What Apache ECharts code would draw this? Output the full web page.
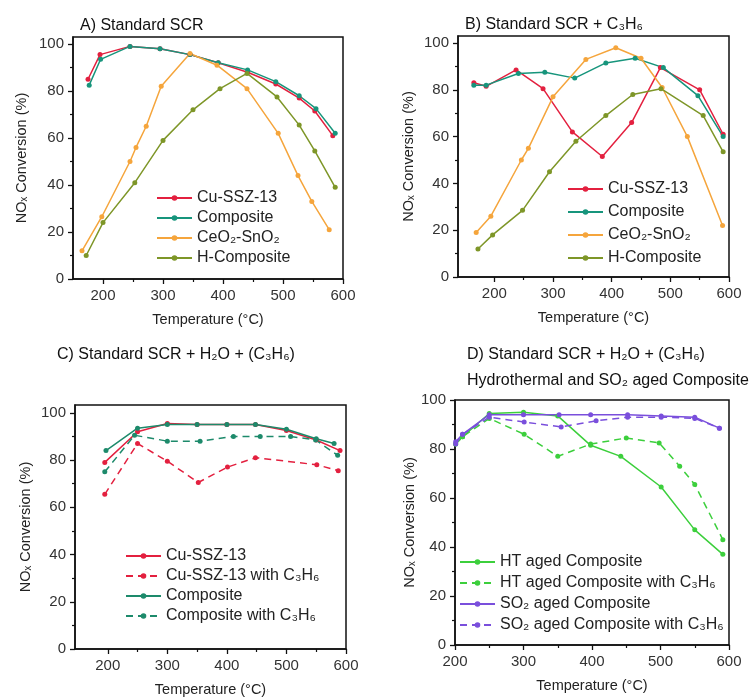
<!DOCTYPE html>
<html><head><meta charset="utf-8">
<script src="https://cdn.jsdelivr.net/npm/echarts@6/dist/echarts.min.js"></script>
<style>html,body{margin:0;padding:0;background:#fff}#c{width:753px;height:699px}</style>
</head><body><div id="c"></div>
<script>
// ---------- Panel A: Standard SCR ----------
const A_cu_T   = [175,195,245,295,345,392,441,488,527,553,583];
const A_cu_Y   = [85,95.5,99,98,95.5,92,88,83,77,71.5,61];
const A_comp_T = [177,196,245,295,345,392,441,488,527,555,587];
const A_comp_Y = [82.5,93.5,99,98,95.5,92,89,84,78,72.5,62];
const A_ceo_T  = [165,198,245,255,272,297,345,390,440,492,525,548,577];
const A_ceo_Y  = [12,26.5,50,56,65,82,96,91,81,62,44,33,21];
const A_h_T    = [172,200,253,300,350,395,440,490,527,553,587];
const A_h_Y    = [10,24,41,59,72,81,87.5,77.5,65.5,54.5,39];
// ---------- Panel B: Standard SCR + C3H6 ----------
const B_cu_T   = [165,186,237,283,333,384,434,483,550,590];
const B_cu_Y   = [83,81.5,88.5,80.5,62,51.5,66,89.5,80,61];
const B_comp_T = [165,186,241,286,337,390,440,488,547,590];
const B_comp_Y = [82,82,87,87.5,85,91.5,93.5,89.5,77.5,60];
const B_ceo_T  = [169,194,246,258,300,356,407,450,486,529,589];
const B_ceo_Y  = [19,26,50,55,77,93,98,93.5,81,60,22];
const B_h_T    = [172,197,248,294,339,390,436,484,556,590];
const B_h_Y    = [12,18,28.5,45,58,69,78,80.5,69,53.5];
// ---------- Panel C: Standard SCR + H2O + (C3H6) ----------
const C_cu_T    = [195,250,300,350,400,448,500,550,590];
const C_cu_Y    = [79,92,95.5,95,95,95,92.5,88.5,84];
const C_cuHC_T  = [195,250,300,352,401,448,551,587];
const C_cuHC_Y  = [65.5,87,79.5,70.5,77,81,78,75.5];
const C_comp_T  = [197,250,300,350,400,448,500,550,580];
const C_comp_Y  = [84,93.5,95,95,95,95,93,89,87];
const C_compHC_T= [195,245,300,355,411,456,507,549,586];
const C_compHC_Y= [75,90.5,88,88,90,90,90,88.5,82];
// ---------- Panel D: aged composite ----------
const D_ht_T    = [201,211,250,300,350,398,442,501,550,591];
const D_ht_Y    = [82,85,94.5,95,93.5,81.5,77,64.5,47,37];
const D_htHC_T  = [201,211,250,301,350,398,450,498,528,550,591];
const D_htHC_Y  = [82,85,92.5,86,77,82,84.5,82.5,73,65.5,43];
const D_so_T    = [201,211,250,300,352,398,452,501,550,586];
const D_so_Y    = [83,86,94,94,94,94,94,93.5,93,88.5];
const D_soHC_T  = [201,211,250,301,355,406,452,501,550,586];
const D_soHC_Y  = [82,86,93,91,89,91.5,93,93,92.5,88.5];
// ---------- ticks ----------
const xMajorTicks = [200,300,400,500,600];
const xMinorTicks = [250,350,450,550];
const yMajorTicks = [0,20,40,60,80,100];
const yMinorTicks = [10,30,50,70,90];
const xRanges = [[150,600],[138,600],[145,600],[200,600]];
const yMaxes = [103,103,103.3,100];

const FONT = "'Liberation Sans', Arial, sans-serif";
const RED='#e3203f', TEAL='#17957c', ORANGE='#f5a53c', OLIVE='#7e9628', TEAL2='#1d8a6b', GREEN='#3ccf3c', PURPLE='#7a4fdc';

const grids = [
  {left:73, top:37, width:270, height:242},
  {left:458, top:36, width:271, height:241},
  {left:75, top:405, width:271, height:244},
  {left:455, top:400, width:274, height:245}
].map(g => Object.assign(g, {show:true, borderColor:'#111', borderWidth:1.5, backgroundColor:'rgba(0,0,0,0)'}));

const yNameGaps = [44,42,42,37];
const xAxes = [], yAxes = [];
for (let i=0;i<4;i++){
  xAxes.push({type:'value', gridIndex:i, position:'bottom', min:xRanges[i][0], max:xRanges[i][1],
    name:'Temperature (°C)', nameLocation:'middle', nameGap:33,
    nameTextStyle:{fontFamily:FONT,fontSize:14.5,color:'#222'},
    axisLine:{show:true,lineStyle:{color:'#111',width:1.5}},
    axisTick:{show:true,customValues:xMajorTicks,length:5,lineStyle:{color:'#111',width:1.3}},
    axisLabel:{show:true,customValues:xMajorTicks,margin:9,fontFamily:FONT,fontSize:15,color:'#333'},
    splitLine:{show:false}});
  yAxes.push({type:'value', gridIndex:i, position:'left', min:0, max:yMaxes[i],
    name:'NOₓ Conversion (%)', nameLocation:'middle', nameGap:yNameGaps[i],
    nameTextStyle:{fontFamily:FONT,fontSize:14.5,color:'#222'},
    axisLine:{show:true,lineStyle:{color:'#111',width:1.5}},
    axisTick:{show:true,customValues:yMajorTicks,length:5,lineStyle:{color:'#111',width:1.3}},
    axisLabel:{show:true,customValues:yMajorTicks,margin:9,fontFamily:FONT,fontSize:15,color:'#333'},
    splitLine:{show:false}});
}
for (let i=0;i<4;i++){
  xAxes.push({type:'value', gridIndex:i, position:'bottom', min:xRanges[i][0], max:xRanges[i][1],
    axisLine:{show:false}, axisLabel:{show:false}, splitLine:{show:false},
    axisTick:{show:true,customValues:xMinorTicks,length:3,lineStyle:{color:'#111',width:1.2}}});
  yAxes.push({type:'value', gridIndex:i, position:'left', min:0, max:yMaxes[i],
    axisLine:{show:false}, axisLabel:{show:false}, splitLine:{show:false},
    axisTick:{show:true,customValues:yMinorTicks,length:3,lineStyle:{color:'#111',width:1.2}}});
}

function zip(T,Y){ return T.map((t,k)=>[t,Y[k]]); }
function mk(name, T, Y, color, g, dashed){
  return {type:'line', name:name, xAxisIndex:g, yAxisIndex:g, data:zip(T,Y),
    symbol:'circle', symbolSize:5, showSymbol:true,
    itemStyle:{color:color},
    lineStyle:{color:color, width:1.5, type: dashed ? [7,5] : 'solid'},
    emphasis:{disabled:true}};
}

const series = [
  mk('A|Cu-SSZ-13', A_cu_T, A_cu_Y, RED, 0),
  mk('A|Composite', A_comp_T, A_comp_Y, TEAL, 0),
  mk('A|CeO₂-SnO₂', A_ceo_T, A_ceo_Y, ORANGE, 0),
  mk('A|H-Composite', A_h_T, A_h_Y, OLIVE, 0),
  mk('B|Cu-SSZ-13', B_cu_T, B_cu_Y, RED, 1),
  mk('B|Composite', B_comp_T, B_comp_Y, TEAL, 1),
  mk('B|CeO₂-SnO₂', B_ceo_T, B_ceo_Y, ORANGE, 1),
  mk('B|H-Composite', B_h_T, B_h_Y, OLIVE, 1),
  mk('C|Cu-SSZ-13', C_cu_T, C_cu_Y, RED, 2),
  mk('C|Cu-SSZ-13 with C₃H₆', C_cuHC_T, C_cuHC_Y, RED, 2, true),
  mk('C|Composite', C_comp_T, C_comp_Y, TEAL2, 2),
  mk('C|Composite with C₃H₆', C_compHC_T, C_compHC_Y, TEAL2, 2, true),
  mk('D|HT aged Composite', D_ht_T, D_ht_Y, GREEN, 3),
  mk('D|HT aged Composite with C₃H₆', D_htHC_T, D_htHC_Y, GREEN, 3, true),
  mk('D|SO₂ aged Composite', D_so_T, D_so_Y, PURPLE, 3),
  mk('D|SO₂ aged Composite with C₃H₆', D_soHC_T, D_soHC_Y, PURPLE, 3, true)
];

function lg(prefix, left, top, gap){
  return {orient:'vertical', left:left, top:top, itemWidth:35, itemHeight:7, itemGap:gap,
    data: series.filter(s=>s.name.startsWith(prefix+'|')).map(s=>s.name),
    formatter: n => n.split('|')[1],
    textStyle:{fontFamily:FONT,fontSize:16,color:'#222'}, selectedMode:false};
}

const option = {
  animation:false,
  backgroundColor:'#fff',
  title:[
    {text:'A) Standard SCR', left:75, top:13, textStyle:{fontFamily:FONT,fontSize:16,fontWeight:'normal',color:'#111'}},
    {text:'B) Standard SCR + C₃H₆', left:460, top:12, textStyle:{fontFamily:FONT,fontSize:16,fontWeight:'normal',color:'#111'}},
    {text:'C) Standard SCR + H₂O + (C₃H₆)', left:52, top:342, textStyle:{fontFamily:FONT,fontSize:16,fontWeight:'normal',color:'#111'}},
    {text:'D) Standard SCR + H₂O + (C₃H₆)', left:462, top:342, textStyle:{fontFamily:FONT,fontSize:16,fontWeight:'normal',color:'#111'}},
    {text:'Hydrothermal and SO₂ aged Composite', left:462, top:368, textStyle:{fontFamily:FONT,fontSize:16,fontWeight:'normal',color:'#111'}}
  ],
  legend:[lg('A',151,185,4), lg('B',562,176,7), lg('C',120,543,4), lg('D',454,549,5)],
  grid:grids, xAxis:xAxes, yAxis:yAxes, series:series
};
const chart = echarts.init(document.getElementById('c'), null, {renderer:'canvas'});
chart.setOption(option);
</script></body></html>
